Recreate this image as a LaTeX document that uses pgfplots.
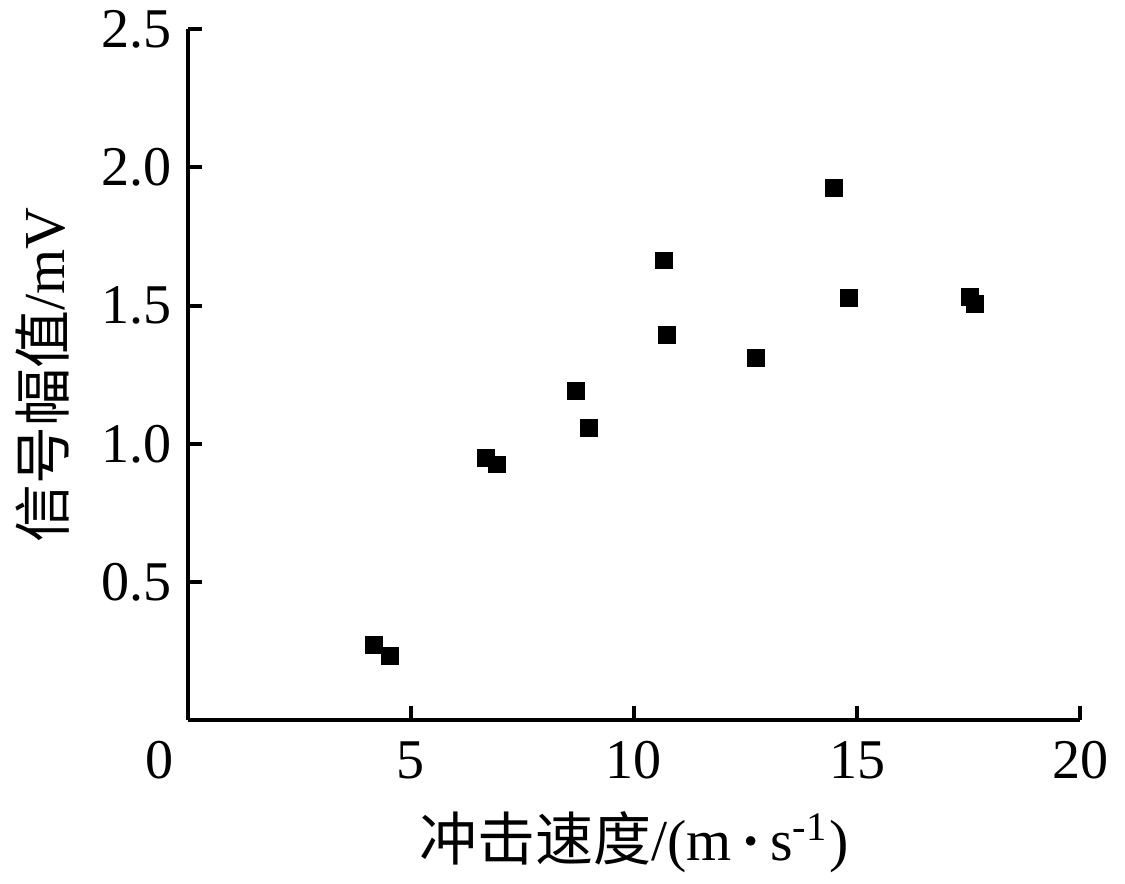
\documentclass[border=0pt]{standalone}
\usepackage{fontspec}
\setmainfont{Liberation Serif}
\newfontfamily\cjk{Noto Sans CJK SC}
\usepackage{pgfplots}
\pgfplotsset{compat=1.18}
\usetikzlibrary{calc}

\begin{document}
\begin{tikzpicture}
\begin{axis}[name=ax,
  scale only axis, width=191pt, height=148pt,
  xmin=0, xmax=20, ymin=0, ymax=2.5,
  axis lines=left, axis line style={line width=0.85pt, -},
  tick style={line width=0.85pt, black}, tick align=inside,
  major tick length=3pt,
  xtick={5,10,15,20}, ytick={0.5,1,1.5,2,2.5},
  extra x ticks={0}, extra x tick style={major tick length=0pt, xticklabel style={xshift=-6pt}},
  yticklabel style={/pgf/number format/fixed, /pgf/number format/fixed zerofill, /pgf/number format/precision=1},
  /pgf/number format/assume math mode=true,
  ticklabel style={font=\fontsize{12}{14}\selectfont},
  xticklabel style={yshift=-1pt},
  label style={font=\fontsize{12.4}{14}\selectfont},
  xlabel={{\cjk 冲击速度}/(m\,\textbf{·}\,s\textsuperscript{-1})},
  ylabel={{\cjk 信号幅值}/mV},
  ylabel style={yshift=0pt},
]
\addplot[only marks, mark=square*, mark size=1.7pt, black] coordinates {
(4.17,0.273) (4.53,0.233) (6.68,0.950) (6.93,0.925)
(8.70,1.190) (8.99,1.058) (10.67,1.663) (10.74,1.393)
(12.74,1.310) (14.48,1.926) (14.82,1.527) (17.53,1.530) (17.65,1.505)
};
\end{axis}
\pgfresetboundingbox
\path ($(ax.south west)+(-40.2pt,-34.9pt)$) rectangle ($(ax.north east)+(9.6pt,6.2pt)$);
\end{tikzpicture}
\end{document}
